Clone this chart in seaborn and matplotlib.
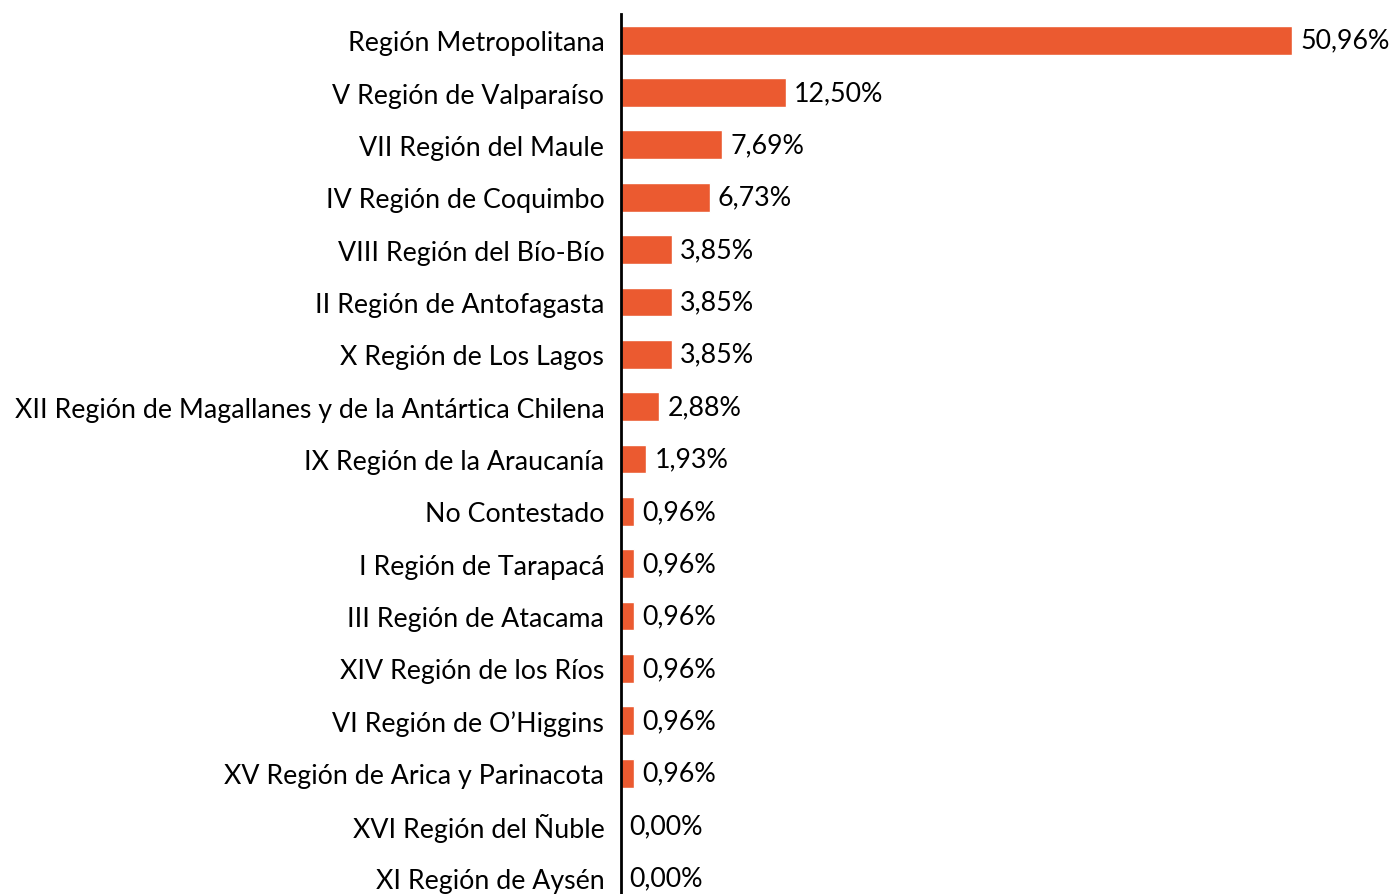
import matplotlib
matplotlib.use("Agg")
import matplotlib.pyplot as plt
import seaborn as sns
import pandas as pd

regions = [
    "Región Metropolitana",
    "V Región de Valparaíso",
    "VII Región del Maule",
    "IV Región de Coquimbo",
    "VIII Región del Bío-Bío",
    "II Región de Antofagasta",
    "X Región de Los Lagos",
    "XII Región de Magallanes y de la Antártica Chilena",
    "IX Región de la Araucanía",
    "No Contestado",
    "I Región de Tarapacá",
    "III Región de Atacama",
    "XIV Región de los Ríos",
    "VI Región de O’Higgins",
    "XV Región de Arica y Parinacota",
    "XVI Región del Ñuble",
    "XI Región de Aysén",
]
percentages = [50.96, 12.50, 7.69, 6.73, 3.85, 3.85, 3.85, 2.88, 1.93,
               0.96, 0.96, 0.96, 0.96, 0.96, 0.96, 0.00, 0.00]

df = pd.DataFrame({"region": regions, "pct": percentages})

sns.set_style("white")
plt.rcParams['font.family'] = ['Lato', 'DejaVu Sans']

fig = plt.figure(figsize=(13.92, 8.95), dpi=100)
ax = fig.add_axes([621/1392, -10/895, (1392-621)/1392, 890/895])

sns.barplot(data=df, x="pct", y="region", orient="h", color="#EB5A30",
            saturation=1, width=0.55, ax=ax)

ax.set_xlim(0, (1392-621)/(671/50.96))
ax.set_ylim(16.5, -0.5)
ax.set_xlabel("")
ax.set_ylabel("")
ax.set_xticks([])
for s in ["top", "right", "bottom"]:
    ax.spines[s].set_visible(False)
ax.spines["left"].set_color("black")
ax.spines["left"].set_linewidth(2)
ax.tick_params(axis="y", length=0, pad=12, labelsize=19.3)
for lbl in ax.get_yticklabels():
    lbl.set_color("black")

for i, v in enumerate(percentages):
    ax.annotate(f"{v:.2f}%".replace(".", ","), xy=(v, i), xytext=(6, 0),
                textcoords="offset points", va="center", ha="left",
                fontsize=19.3, color="black")

fig.savefig("out.png", dpi=100)
